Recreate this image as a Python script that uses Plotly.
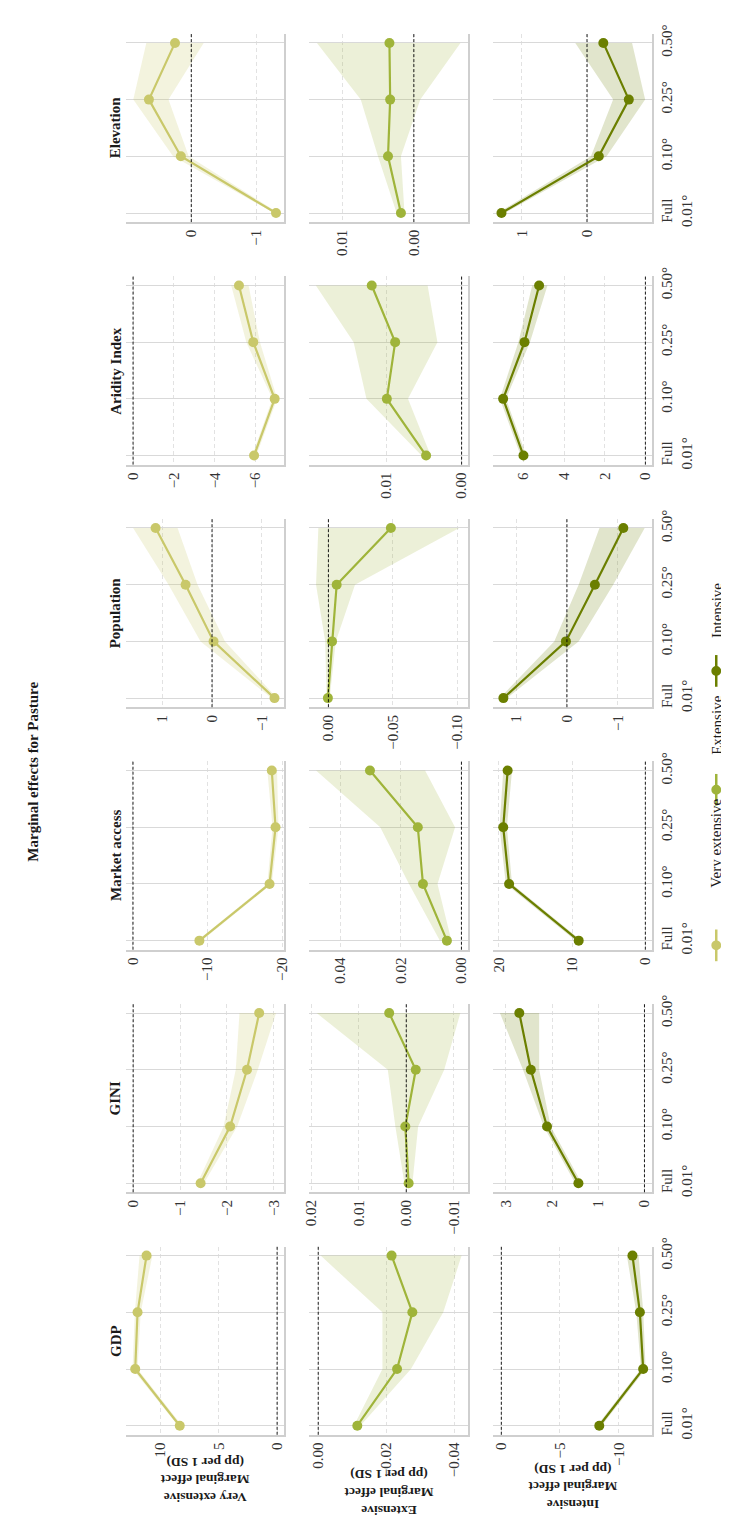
import plotly.graph_objects as go

# ---------------- data ----------------
resolutions = ["Full", "0.10°", "0.25°", "0.50°"]
resolution_ticktext = ["Full<br>0.01°", "0.10°", "0.25°", "0.50°"]
variables = ["GDP", "GINI", "Market access", "Population", "Aridity Index", "Elevation"]
intensities = ["Very extensive", "Extensive", "Intensive"]
row_labels = ["Very extensive", "Extensive", "Intensive"]

# values ordered Full, 0.10, 0.25, 0.50
gdp_vext = [8.35, 12.17, 11.97, 11.2]
gdp_vext_lo = [8.15, 11.97, 11.7, 10.7]
gdp_vext_hi = [8.5, 12.4, 12.2, 11.8]
gdp_ext = [-0.0115, -0.0232, -0.0277, -0.0216]
gdp_ext_lo = [-0.0124, -0.0273, -0.0368, -0.0422]
gdp_ext_hi = [-0.0105, -0.0189, -0.0189, -0.0007]
gdp_int = [-8.35, -12.09, -11.81, -11.18]
gdp_int_lo = [-8.55, -12.3, -12.1, -11.7]
gdp_int_hi = [-8.15, -11.9, -11.5, -10.7]

gini_vext = [-1.44, -2.07, -2.43, -2.69]
gini_vext_lo = [-1.51, -2.22, -2.66, -3.05]
gini_vext_hi = [-1.37, -1.93, -2.19, -2.27]
gini_ext = [-0.0005, 0.0002, -0.002, 0.0036]
gini_ext_lo = [-0.0013, -0.0025, -0.008, -0.0114]
gini_ext_hi = [0.0004, 0.0023, 0.0039, 0.0189]
gini_int = [1.43, 2.11, 2.46, 2.71]
gini_int_lo = [1.36, 2.03, 2.28, 2.28]
gini_int_hi = [1.5, 2.18, 2.63, 3.13]

market_vext = [-8.9, -18.3, -19.1, -18.6]
market_vext_lo = [-9.2, -18.6, -19.5, -19.3]
market_vext_hi = [-8.6, -18.0, -18.7, -18.0]
market_ext = [0.0048, 0.0127, 0.0144, 0.0302]
market_ext_lo = [0.0033, 0.0079, 0.0021, 0.012]
market_ext_hi = [0.0071, 0.0173, 0.0268, 0.048]
market_int = [9.1, 18.6, 19.4, 18.8]
market_int_lo = [8.7, 18.2, 18.9, 18.2]
market_int_hi = [9.5, 19.05, 19.9, 19.4]

pop_vext = [-1.25, -0.03, 0.53, 1.13]
pop_vext_lo = [-1.30, -0.26, 0.29, 0.69]
pop_vext_hi = [-1.19, 0.23, 0.87, 1.58]
pop_ext = [0.0004, -0.0028, -0.0064, -0.0484]
pop_ext_lo = [-0.001, -0.0057, -0.0206, -0.1014]
pop_ext_hi = [0.0014, 0.0025, 0.0096, 0.0078]
pop_int = [1.25, 0.02, -0.55, -1.11]
pop_int_lo = [1.18, -0.23, -0.91, -1.53]
pop_int_hi = [1.32, 0.25, -0.23, -0.64]

arid_vext = [-5.93, -6.94, -5.89, -5.19]
arid_vext_lo = [-6.04, -7.06, -6.22, -5.66]
arid_vext_hi = [-5.84, -6.83, -5.55, -4.81]
arid_ext = [0.0047, 0.0099, 0.0088, 0.0119]
arid_ext_lo = [0.0041, 0.0071, 0.0032, 0.0045]
arid_ext_hi = [0.0053, 0.0126, 0.0143, 0.0193]
arid_int = [6.0, 7.0, 5.95, 5.23]
arid_int_lo = [5.86, 6.86, 5.68, 4.82]
arid_int_hi = [6.14, 7.16, 6.25, 5.57]

elev_vext = [-1.30, 0.16, 0.65, 0.25]
elev_vext_lo = [-1.34, 0.04, 0.35, -0.19]
elev_vext_hi = [-1.27, 0.28, 0.89, 0.69]
elev_ext = [0.0018, 0.0036, 0.0033, 0.0034]
elev_ext_lo = [0.0013, 0.0018, -0.0009, -0.0065]
elev_ext_hi = [0.0024, 0.005, 0.0074, 0.0135]
elev_int = [1.31, -0.18, -0.64, -0.25]
elev_int_lo = [1.26, -0.30, -0.89, -0.69]
elev_int_hi = [1.37, -0.06, -0.40, 0.18]

# tick values per panel (variable, intensity)
ticks_gdp = [[10, 5, 0], [0.0, -0.02, -0.04], [0, -5, -10]]
ticks_gini = [[0, -1, -2, -3], [0.02, 0.01, 0.0, -0.01], [3, 2, 1, 0]]
ticks_market = [[0, -10, -20], [0.04, 0.02, 0.0], [20, 10, 0]]
ticks_pop = [[1, 0, -1], [0.0, -0.05, -0.10], [1, 0, -1]]
ticks_arid = [[0, -2, -4, -6], [0.01, 0.0], [6, 4, 2, 0]]
ticks_elev = [[0, -1], [0.01, 0.0], [1, 0]]

# ---------------- assembly ----------------
series = {
    "GDP": [(gdp_vext, gdp_vext_lo, gdp_vext_hi), (gdp_ext, gdp_ext_lo, gdp_ext_hi), (gdp_int, gdp_int_lo, gdp_int_hi)],
    "GINI": [(gini_vext, gini_vext_lo, gini_vext_hi), (gini_ext, gini_ext_lo, gini_ext_hi), (gini_int, gini_int_lo, gini_int_hi)],
    "Market access": [(market_vext, market_vext_lo, market_vext_hi), (market_ext, market_ext_lo, market_ext_hi), (market_int, market_int_lo, market_int_hi)],
    "Population": [(pop_vext, pop_vext_lo, pop_vext_hi), (pop_ext, pop_ext_lo, pop_ext_hi), (pop_int, pop_int_lo, pop_int_hi)],
    "Aridity Index": [(arid_vext, arid_vext_lo, arid_vext_hi), (arid_ext, arid_ext_lo, arid_ext_hi), (arid_int, arid_int_lo, arid_int_hi)],
    "Elevation": [(elev_vext, elev_vext_lo, elev_vext_hi), (elev_ext, elev_ext_lo, elev_ext_hi), (elev_int, elev_int_lo, elev_int_hi)],
}
ticks = {"GDP": ticks_gdp, "GINI": ticks_gini, "Market access": ticks_market,
         "Population": ticks_pop, "Aridity Index": ticks_arid, "Elevation": ticks_elev}

# axis ranges (reversed: high -> low, left -> right)
ranges = {
    "GDP": [[12.95, -0.63], [0.0027, -0.0442], [0.71, -12.87]],
    "GINI": [[0.15, -3.23], [0.0205, -0.0131], [3.28, -0.17]],
    "Market access": [[0.92, -20.3], [0.0503, -0.0023], [20.8, -0.95]],
    "Population": [[1.72, -1.45], [0.015, -0.1085], [1.455, -1.68]],
    "Aridity Index": [[0.34, -7.42], [0.0202, -0.0009], [7.5, -0.34]],
    "Elevation": [[1.0, -1.43], [0.0146, -0.0076], [1.44, -1.0]],
}

line_colors = ["#c9c86a", "#9fb43a", "#6b7f00"]
fill_colors = ["rgba(201,200,106,0.22)", "rgba(159,180,58,0.2)", "rgba(107,127,0,0.2)"]

W, H = 729, 1518
FONT = "Liberation Serif"
col_x = [(114, 275), (300, 462), (487, 649)]
row_top0, row_step, panel_h = 17, 244.8, 190


def fmt(v, dec):
    s = f"{v:.{dec}f}"
    if s.startswith("-"):
        s = "\u2212" + s[1:]
    if s in ("\u22120", "\u22120.00"):
        s = s[1:]
    return s


fig = go.Figure()
layout = {}
shapes = []
annotations = []

for j, var in enumerate(variables):
    img_row = 5 - j
    top = row_top0 + img_row * row_step
    ydom = [1 - (top + panel_h) / H, 1 - top / H]
    for c in range(3):
        n = j * 3 + c + 1
        xa = "x" if n == 1 else f"x{n}"
        ya = "y" if n == 1 else f"y{n}"
        est, lo, hi = series[var][c]
        # ribbon
        fig.add_trace(go.Scatter(
            x=hi + lo[::-1], y=resolutions + resolutions[::-1],
            fill="toself", fillcolor=fill_colors[c], line=dict(width=0),
            mode="lines", hoverinfo="skip", showlegend=False, xaxis=xa, yaxis=ya))
        # line + markers
        fig.add_trace(go.Scatter(
            x=est, y=resolutions, mode="lines+markers",
            line=dict(color=line_colors[c], width=2.2),
            marker=dict(color=line_colors[c], size=10),
            name=intensities[c], showlegend=False, xaxis=xa, yaxis=ya))
        dec = 2 if c == 1 else 0
        tv = ticks[var][c]
        x0, x1 = col_x[c]
        layout["xaxis" if n == 1 else f"xaxis{n}"] = dict(
            domain=[x0 / W, x1 / W], anchor=ya, range=ranges[var][c],
            tickvals=tv, ticktext=[fmt(v, dec) for v in tv],
            tickangle=-90, ticks="", showgrid=True, gridcolor="#e2e2e2",
            griddash="4px,3px", gridwidth=1, zeroline=False, showline=True,
            linecolor="#cfcfcf", linewidth=1.5,
            tickfont=dict(family=FONT, size=15, color="#333333"))
        layout["yaxis" if n == 1 else f"yaxis{n}"] = dict(
            domain=ydom, anchor=xa, side="right", type="category",
            categoryorder="array", categoryarray=resolutions,
            range=[-0.16, 3.16], tickvals=resolutions, ticktext=resolution_ticktext,
            showticklabels=(c == 2), tickangle=-90, ticks="",
            showgrid=True, gridcolor="#d9d9d9", gridwidth=1.2, zeroline=False,
            showline=True, linecolor="#cfcfcf", linewidth=1.5,
            tickfont=dict(family=FONT, size=15, color="#333333"))
        shapes.append(dict(type="line", xref=xa, yref=f"{ya} domain",
                           x0=0, x1=0, y0=0, y1=1,
                           line=dict(color="black", width=0.9, dash="3px,2px"), layer="above"))
    # column title
    annotations.append(dict(text=f"<b>{var}</b>", x=103 / W, y=1 - (top + panel_h / 2) / H,
                            xref="paper", yref="paper", showarrow=False, textangle=-90,
                            font=dict(family=FONT, size=15, color="#1a1a1a"),
                            xanchor="center", yanchor="middle"))

# row labels (original y-axis titles, now upside down at the bottom)
label_centers = [1476, 1489, 1483]
for c in range(3):
    x0, x1 = col_x[c]
    annotations.append(dict(
        text=f"<b>{row_labels[c]}</b><br><b>Marginal effect</b><br><b>(pp per 1 SD)</b>",
        x=(x0 + x1) / 2 / W, y=1 - label_centers[c] / H, xref="paper", yref="paper",
        showarrow=False, textangle=180, xanchor="center", yanchor="middle",
        borderpad=0, font=dict(family=FONT, size=13.5, color="#1a1a1a")))

# title
annotations.append(dict(text="<b>Marginal effects for Pasture</b>", x=19 / W, y=1 - 762 / H,
                        xref="paper", yref="paper", showarrow=False, textangle=-90,
                        xanchor="center", yanchor="middle",
                        font=dict(family=FONT, size=15, color="#1a1a1a")))

# legend (rotated), built from shapes and text
leg_x = 714
leg_key_centers = [937, 780, 660]
leg_text_bottoms = [880, 746, 628]
for c in range(3):
    yc = leg_key_centers[c]
    shapes.append(dict(type="line", xref="paper", yref="paper",
                       x0=leg_x / W, x1=leg_x / W, y0=1 - (yc - 16) / H, y1=1 - (yc + 16) / H,
                       line=dict(color=line_colors[c], width=2.5)))
    r = 5
    shapes.append(dict(type="circle", xref="paper", yref="paper",
                       x0=(leg_x - r) / W, x1=(leg_x + r) / W, y0=1 - (yc + r) / H, y1=1 - (yc - r) / H,
                       fillcolor=line_colors[c], line=dict(color=line_colors[c], width=0)))
    annotations.append(dict(text=intensities[c], x=leg_x / W, y=1 - leg_text_bottoms[c] / H,
                            xref="paper", yref="paper", showarrow=False, textangle=-90,
                            xanchor="center", yanchor="bottom", borderpad=0,
                            font=dict(family=FONT, size=15, color="#1a1a1a")))

fig.update_layout(
    width=W, height=H, margin=dict(l=0, r=0, t=0, b=0),
    paper_bgcolor="white", plot_bgcolor="white", showlegend=False,
    shapes=shapes, annotations=annotations, **layout)

fig.write_html("out.html")
